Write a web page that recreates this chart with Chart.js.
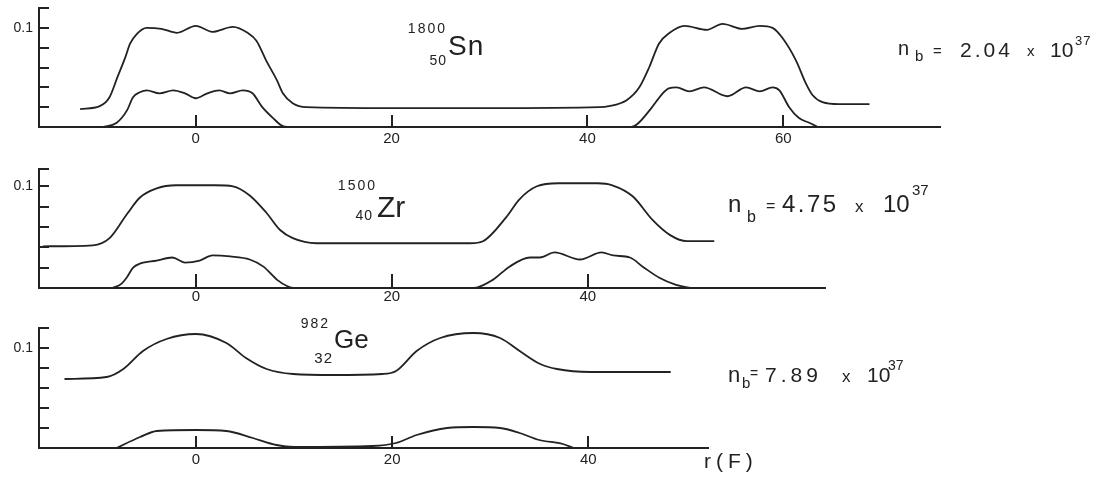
<!DOCTYPE html>
<html>
<head>
<meta charset="utf-8">
<script src="https://cdn.jsdelivr.net/npm/chart.js@4.4.1/dist/chart.umd.min.js"></script>
<style>
html, body { margin: 0; padding: 0; background: #ffffff; }
#wrap { position: relative; width: 1106px; height: 477px; overflow: hidden; background: #ffffff; }
canvas { position: absolute; left: 0; }
</style>
</head>
<body>
<div id="wrap">
  <canvas id="pSn" width="1106" height="160" style="top:0px"></canvas>
  <canvas id="pZr" width="1106" height="150" style="top:160px"></canvas>
  <canvas id="pGe" width="1106" height="167" style="top:310px"></canvas>
</div>
<script>
// ---------- tick labels ----------
const xTicksSn = [0, 20, 40, 60];
const xTicksZr = [0, 20, 40];
const xTicksGe = [0, 20, 40];
const yTicks = [0, 0.02, 0.04, 0.06, 0.08, 0.1];
const yLabelledTick = 0.1;
const yLabelText = '0.1';

// ---------- series: [r (F), density] ----------
// 1800/50 Sn, n_b = 2.04 x 10^37
const snUpper = [[-11.8,0.018],[-9.8,0.021],[-8.8,0.030],[-8.0,0.050],[-7.2,0.070],[-6.7,0.084],[-6.0,0.094],[-5.0,0.100],[-3.5,0.099],[-1.9,0.095],[0,0.102],[1.7,0.096],[3.8,0.101],[5.3,0.095],[6.2,0.087],[7.2,0.067],[8.3,0.047],[8.9,0.034],[9.9,0.024],[11.3,0.020],[20,0.019],[30,0.019],[41.2,0.020],[42.2,0.021],[44.0,0.027],[45.3,0.040],[46.3,0.060],[47.3,0.084],[48.4,0.095],[49.9,0.102],[52.2,0.098],[53.8,0.104],[55.8,0.099],[57.6,0.102],[58.9,0.100],[59.9,0.090],[61.3,0.067],[62.3,0.044],[63.0,0.032],[64.0,0.025],[65.7,0.023],[68.8,0.023]];
const snLower = [[-9.5,0],[-8.1,0.004],[-7.0,0.017],[-6.4,0.030],[-5.7,0.035],[-5.0,0.037],[-3.7,0.034],[-2.3,0.037],[-1.1,0.034],[0,0.029],[1.2,0.034],[2.4,0.037],[3.5,0.034],[4.8,0.037],[5.8,0.034],[6.8,0.020],[7.9,0.009],[8.9,0.001],[10,0],[44.5,0],[45.1,0.003],[46.6,0.020],[47.6,0.033],[48.3,0.039],[49.1,0.040],[50.4,0.036],[51.9,0.040],[54.3,0.031],[56.2,0.040],[57.6,0.036],[58.9,0.040],[59.6,0.037],[60.6,0.020],[61.6,0.009],[62.7,0.004],[63.5,0]];

// 1500/40 Zr, n_b = 4.75 x 10^37
const zrUpper = [[-15.6,0.041],[-10.5,0.042],[-8.8,0.049],[-7.0,0.073],[-5.7,0.089],[-4.0,0.098],[-2.0,0.101],[0,0.101],[2.0,0.101],[3.8,0.100],[5.5,0.091],[7.2,0.074],[8.6,0.057],[9.9,0.049],[12.3,0.044],[20,0.044],[28,0.044],[29.3,0.046],[31.7,0.070],[33.0,0.087],[34.8,0.100],[37.0,0.103],[39.2,0.103],[41.0,0.103],[42.5,0.101],[44.6,0.090],[46.6,0.067],[48.4,0.052],[50.1,0.046],[52.9,0.046]];
const zrLower = [[-8.5,0],[-7.6,0.004],[-7.0,0.011],[-6.4,0.020],[-5.7,0.024],[-4.0,0.027],[-2.4,0.030],[-1.1,0.025],[0.4,0.027],[1.7,0.032],[3.5,0.031],[5.5,0.028],[6.9,0.021],[8.3,0.008],[9.3,0.002],[10,0],[28.3,0],[30.3,0.008],[32.0,0.021],[34.1,0.030],[35.1,0.030],[36.6,0.035],[39.2,0.028],[41.4,0.035],[42.6,0.032],[44.3,0.030],[45.6,0.021],[47.3,0.010],[49.0,0.003],[50.5,0]];

// 982/32 Ge, n_b = 7.89 x 10^37
const geUpper = [[-13.4,0.069],[-9.1,0.071],[-7.4,0.079],[-5.4,0.097],[-3.0,0.109],[0,0.114],[3.1,0.105],[5.1,0.090],[7.2,0.079],[9.9,0.074],[14,0.073],[19,0.074],[20.4,0.077],[22.5,0.097],[24.9,0.110],[28.3,0.115],[31.0,0.110],[33.0,0.097],[35.1,0.084],[36.8,0.079],[40.2,0.076],[48.4,0.076]];
const geLower = [[-8.1,0],[-5.7,0.011],[-4.0,0.017],[0,0.018],[3.1,0.017],[5.8,0.010],[8.2,0.003],[10,0.001],[18,0.002],[20.4,0.005],[22.5,0.013],[25.6,0.020],[28.3,0.021],[31.0,0.020],[33.0,0.015],[35.0,0.008],[37.4,0.004],[38.5,0]];

// ---------- drawing ----------
const INK = '#222222';
const FONT = '"Liberation Sans", Arial, sans-serif';

function notesPlugin(items) {
  return {
    id: 'notes',
    afterDraw(chart) {
      const ctx = chart.ctx;
      ctx.save();
      ctx.fillStyle = INK;
      for (const it of items) {
        ctx.font = it.size + 'px ' + FONT;
        ctx.textAlign = it.align || 'left';
        ctx.textBaseline = 'alphabetic';
        if ('letterSpacing' in ctx) ctx.letterSpacing = (it.ls || 0) + 'px';
        ctx.fillText(it.t, it.x, it.y);
      }
      ctx.restore();
    }
  };
}

function makePanel(id, cfg) {
  const yList = yTicks.concat([cfg.yMax]);
  return new Chart(document.getElementById(id), {
    type: 'line',
    data: {
      datasets: cfg.series.map(s => ({
        data: s.map(p => ({ x: p[0], y: p[1] })),
        borderColor: INK,
        borderWidth: 1.8,
        pointRadius: 0,
        fill: false,
        cubicInterpolationMode: 'monotone'
      }))
    },
    options: {
      responsive: false,
      animation: false,
      events: [],
      layout: { padding: { top: cfg.padTop, right: cfg.padRight, left: 0, bottom: 0 } },
      plugins: { legend: { display: false }, tooltip: { enabled: false }, title: { display: false } },
      scales: {
        x: {
          type: 'linear',
          min: cfg.xMin,
          max: cfg.xMax,
          afterBuildTicks: s => { s.ticks = cfg.xTicks.map(v => ({ value: v })); },
          afterFit: s => { s.height = cfg.xAxisH; s.paddingLeft = 0; s.paddingRight = 0; },
          grid: { display: true, drawOnChartArea: false, drawTicks: true, tickLength: -cfg.xTickLen, color: INK, lineWidth: 2 },
          border: { display: true, color: INK, width: 2 },
          ticks: { color: INK, font: { family: FONT, size: 15 }, padding: cfg.xPad, autoSkip: false, maxRotation: 0, callback: v => String(v) }
        },
        y: {
          type: 'linear',
          min: 0,
          max: cfg.yMax,
          afterBuildTicks: s => { s.ticks = yList.map(v => ({ value: v })); },
          afterFit: s => { s.width = 39; s.paddingTop = 0; s.paddingBottom = 0; },
          grid: { display: true, drawOnChartArea: false, drawTicks: true, tickLength: -10, color: INK, lineWidth: 2 },
          border: { display: true, color: INK, width: 2 },
          ticks: { color: INK, font: { family: FONT, size: 14 }, padding: 16, autoSkip: false,
                   callback: v => (Math.abs(v - yLabelledTick) < 1e-9 ? yLabelText : '') }
        }
      }
    },
    plugins: [notesPlugin(cfg.notes)]
  });
}

makePanel('pSn', {
  series: [snUpper, snLower], xTicks: xTicksSn, xMin: -16, xMax: 76, yMax: 0.12,
  padTop: 8, padRight: 166, xAxisH: 33, xTickLen: 12, xPad: 15,
  notes: [
    { t: '1800', x: 447, y: 33, size: 14, align: 'right', ls: 2 },
    { t: '50', x: 447, y: 65, size: 14, align: 'right', ls: 1 },
    { t: 'Sn', x: 448, y: 55, size: 28, ls: 1 },
    { t: 'n', x: 898, y: 55, size: 20 },
    { t: 'b', x: 915, y: 61, size: 15 },
    { t: '=', x: 933, y: 56, size: 15 },
    { t: '2.04', x: 960, y: 57, size: 21, ls: 3 },
    { t: 'x', x: 1027, y: 56, size: 15 },
    { t: '10', x: 1050, y: 57, size: 21 },
    { t: '37', x: 1075, y: 45, size: 13, ls: 1 }
  ]
});

makePanel('pZr', {
  series: [zrUpper, zrLower], xTicks: xTicksZr, xMin: -16, xMax: 64.2, yMax: 0.117,
  padTop: 9, padRight: 281, xAxisH: 22, xTickLen: 14, xPad: 14,
  notes: [
    { t: '1500', x: 377, y: 30, size: 14, align: 'right', ls: 2 },
    { t: '40', x: 373, y: 60, size: 14, align: 'right', ls: 1 },
    { t: 'Zr', x: 377, y: 57, size: 30 },
    { t: 'n', x: 728, y: 52, size: 24 },
    { t: 'b', x: 747, y: 62, size: 16 },
    { t: '=', x: 766, y: 51, size: 16 },
    { t: '4.75', x: 782, y: 52, size: 24, ls: 2.5 },
    { t: 'x', x: 855, y: 52, size: 17 },
    { t: '10', x: 883, y: 52, size: 24 },
    { t: '37', x: 912, y: 35, size: 15 }
  ]
});

makePanel('pGe', {
  series: [geUpper, geLower], xTicks: xTicksGe, xMin: -16, xMax: 52.2, yMax: 0.12,
  padTop: 18, padRight: 398, xAxisH: 29, xTickLen: 12, xPad: 15,
  notes: [
    { t: '982', x: 330, y: 18, size: 14, align: 'right', ls: 2 },
    { t: '32', x: 333, y: 53, size: 15, align: 'right', ls: 1 },
    { t: 'Ge', x: 334, y: 38, size: 26 },
    { t: 'n', x: 728, y: 72, size: 22 },
    { t: 'b', x: 742, y: 78, size: 15 },
    { t: '=', x: 750, y: 68, size: 14 },
    { t: '7.89', x: 765, y: 72, size: 21, ls: 4 },
    { t: 'x', x: 842, y: 72, size: 17 },
    { t: '10', x: 867, y: 72, size: 21 },
    { t: '37', x: 888, y: 60, size: 14 },
    { t: 'r(F)', x: 704, y: 158, size: 21, ls: 5 }
  ]
});
</script>
</body>
</html>
